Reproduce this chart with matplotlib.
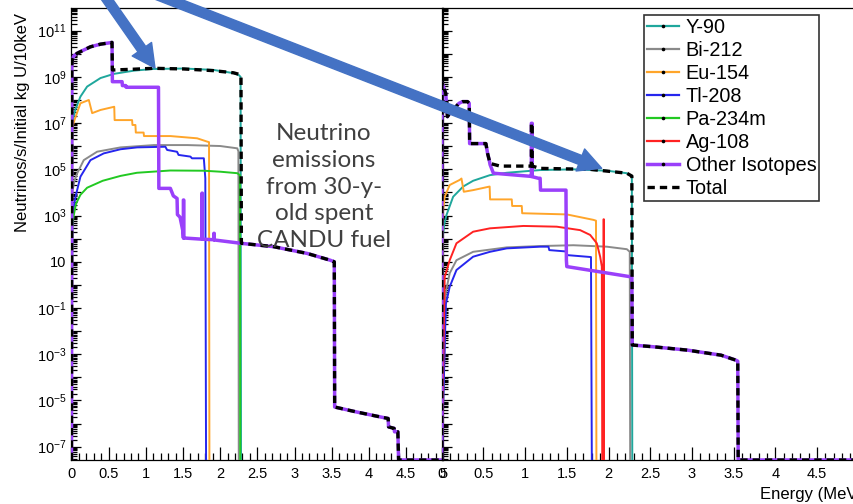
import numpy as np
import matplotlib
matplotlib.use("Agg")
import matplotlib.pyplot as plt
from matplotlib.lines import Line2D
from matplotlib.patches import FancyArrowPatch
from matplotlib.ticker import FixedLocator, MultipleLocator, FuncFormatter

plt.rcParams['font.family'] = ['Liberation Sans', 'DejaVu Sans']

# ---------------- data (energy in MeV, flux in neutrinos/s/kg U/10keV) -------------
series_names = ["Y-90", "Bi-212", "Eu-154", "Tl-208", "Pa-234m", "Ag-108", "Other Isotopes", "Total"]

# left panel
E_L_Y90 = [0.0, 0.01, 0.03, 0.05, 0.12, 0.21, 0.39, 0.57, 0.84, 1.10, 1.51, 1.91, 2.18, 2.25, 2.275, 2.28]
F_L_Y90 = [0, 6.3e6, 2.0e7, 3.7e7, 1.4e8, 3.8e8, 8.9e8, 1.35e9, 1.86e9, 2.2e9, 2.3e9, 2.0e9, 1.45e9, 1.2e9, 1.0e9, 0]

E_L_BI = [0.0, 0.01, 0.04, 0.077, 0.165, 0.345, 0.66, 1.11, 1.56, 2.0, 2.23, 2.245, 2.25]
F_L_BI = [0, 1.0e4, 3.2e4, 6.8e4, 2.5e5, 5.8e5, 8.9e5, 1.12e6, 1.12e6, 1.02e6, 8.1e5, 6.0e5, 0]

E_L_EU = [0.0, 0.01, 0.04, 0.12, 0.233, 0.278, 0.39, 0.575, 0.58, 0.815, 0.82, 0.86, 0.865,
          0.97, 0.975, 1.33, 1.69, 1.82, 1.85, 1.855]
F_L_EU = [0, 6.3e6, 1.35e7, 7.2e7, 1.0e8, 2.7e7, 3.7e7, 5.1e7, 1.35e7, 1.35e7, 8.3e6, 8.3e6, 3.9e6,
          3.9e6, 2.75e6, 2.75e6, 2.2e6, 1.6e6, 1.5e6, 0]

E_L_TL = [0.0, 0.01, 0.054, 0.12, 0.255, 0.434, 0.66, 0.883, 1.263, 1.286, 1.42, 1.44, 1.60, 1.62,
          1.78, 1.80, 1.81]
F_L_TL = [0, 1.0e3, 6.5e3, 4.8e4, 2.5e5, 4.9e5, 7.4e5, 8.9e5, 9.5e5, 6.9e5, 5.75e5, 4.2e5, 3.55e5,
          3.0e5, 3.0e5, 4.1e4, 0]

E_L_PA = [0.0, 0.01, 0.03, 0.06, 0.12, 0.21, 0.42, 0.66, 0.88, 1.33, 1.78, 2.0, 2.23, 2.265, 2.27]
F_L_PA = [0, 3.2e2, 1.0e3, 3.2e3, 7.9e3, 1.6e4, 3.2e4, 5.2e4, 7.1e4, 8.9e4, 8.7e4, 7.9e4, 6.8e4, 5.6e4, 0]

E_L_OTH = [0.0, 0.005, 0.01, 0.03, 0.077, 0.165, 0.255, 0.39, 0.52, 0.545, 0.55, 0.68, 0.685, 0.73,
           0.735, 1.17, 1.175, 1.33, 1.37, 1.42, 1.425, 1.46, 1.50, 1.505, 1.505, 1.51, 1.51, 1.755,
           1.755, 1.76, 1.76, 1.915, 1.915, 1.92, 1.92, 2.28, 2.72, 3.17, 3.48, 3.535, 3.54, 3.83,
           4.15, 4.26, 4.265, 4.34, 4.345, 4.39, 4.40, 5.0]
F_L_OTH = [0, 3.2e9, 5.4e9, 8.0e9, 1.05e10, 1.45e10, 2.0e10, 2.6e10, 3.0e10, 3.1e10, 6.2e8, 6.2e8,
           4.2e8, 4.2e8, 3.55e8, 3.55e8, 1.5e4, 1.5e4, 7.1e3, 5.5e3, 1.1e3, 8.5e2, 2.0e2, 1.07e2,
           4.7e3, 4.7e3, 1.07e2, 95, 9.3e3, 9.3e3, 95, 90, 1.7e2, 1.7e2, 88, 63, 45, 23, 11.7, 10,
           5.2e-6, 3.2e-6, 1.95e-6, 1.66e-6, 7.2e-7, 6.2e-7, 4.4e-7, 4.4e-7, 0, 0]

E_L_TOT = [0.0, 0.005, 0.01, 0.03, 0.077, 0.165, 0.255, 0.39, 0.52, 0.545, 0.55, 0.59, 0.84, 1.10,
           1.51, 1.91, 2.18, 2.25, 2.28, 2.285, 2.72, 3.17, 3.48, 3.535, 3.54, 3.83, 4.15, 4.26,
           4.265, 4.34, 4.345, 4.39, 4.40, 5.0]
F_L_TOT = [0, 3.2e9, 5.4e9, 8.0e9, 1.05e10, 1.45e10, 2.0e10, 2.6e10, 3.0e10, 3.1e10, 2.0e9, 2.0e9,
           2.15e9, 2.35e9, 2.2e9, 1.86e9, 1.5e9, 1.3e9, 1.12e9, 63, 45, 23, 11.7, 10, 5.2e-6,
           3.2e-6, 1.95e-6, 1.66e-6, 7.2e-7, 6.2e-7, 4.4e-7, 4.4e-7, 0, 0]

# right panel
E_R_Y90 = [0.0, 0.01, 0.03, 0.057, 0.137, 0.257, 0.377, 0.578, 0.779, 1.18, 1.58, 1.98, 2.22, 2.28, 2.285]
F_R_Y90 = [0, 1.0e2, 4.0e2, 1.05e3, 6.5e3, 1.8e4, 3.2e4, 5.6e4, 7.1e4, 9.3e4, 1.0e5, 8.7e4, 6.8e4, 4.8e4, 0]

E_R_BI = [0.0, 0.05, 0.096, 0.177, 0.377, 0.78, 1.18, 1.58, 1.98, 2.22, 2.255, 2.26]
F_R_BI = [0, 0.5, 3.2, 11.7, 27, 42, 48, 52, 45, 35, 27, 0]

E_R_EU = [0.0, 0.01, 0.036, 0.096, 0.217, 0.237, 0.265, 0.377, 0.575, 0.58, 0.84, 0.845, 0.96,
          0.965, 1.5, 1.82, 1.85, 1.855]
F_R_EU = [0, 1.0e3, 6.5e3, 2.1e4, 3.5e4, 4.0e4, 1.07e4, 1.26e4, 1.8e4, 5.0e3, 5.0e3, 2.6e3, 2.6e3,
          1.26e3, 1.12e3, 6.5e2, 6.0e2, 0]

E_R_TL = [0.0, 0.05, 0.096, 0.177, 0.377, 0.578, 0.78, 1.18, 1.28, 1.29, 1.49, 1.50, 1.79, 1.80]
F_R_TL = [0, 0.15, 0.83, 4.4, 16.6, 27, 38, 45, 45, 32, 28, 19.5, 16, 0]

E_R_AG = [0.0, 0.036, 0.096, 0.177, 0.377, 0.578, 0.98, 1.38, 1.66, 1.78, 1.86, 1.90, 1.92, 1.925,
          1.94, 1.94, 1.945, 1.945]
F_R_AG = [0, 2.2, 11.7, 63, 200, 280, 355, 330, 234, 145, 63, 16.6, 6.2, 0, 0, 690, 690, 0]

E_R_OTH = [0.0, 0.003, 0.008, 0.028, 0.048, 0.069, 0.09, 0.208, 0.25, 0.31, 0.33, 0.335, 0.53, 0.55,
           0.57, 0.58, 0.62, 1.06, 1.075, 1.075, 1.085, 1.085, 1.16, 1.18, 1.185, 1.49, 1.495, 1.50,
           2.28, 2.285, 2.54, 2.95, 3.35, 3.53, 3.55, 3.555, 5.0]
F_R_OTH = [0, 4.0e8, 5.2e8, 3.2e8, 1.95e8, 1.9e7, 2.5e7, 7.2e7, 8.5e7, 8.5e7, 7.2e7, 1.3e6, 1.3e6,
           4.9e5, 2.5e5, 1.6e5, 6.8e4, 5.0e4, 4.9e4, 9.8e6, 9.8e6, 4.8e4, 4.1e4, 4.1e4, 1.26e4,
           1.26e4, 11.7, 6.2, 2.2, 2.5e-3, 2.1e-3, 1.5e-3, 9.1e-4, 5.5e-4, 5.0e-4, 0, 0]

E_R_TOT = [0.0, 0.003, 0.008, 0.028, 0.048, 0.069, 0.09, 0.208, 0.25, 0.31, 0.33, 0.335, 0.53, 0.55,
           0.57, 0.58, 0.70, 1.075, 1.075, 1.085, 1.085, 1.18, 1.78, 2.22, 2.28, 2.285, 2.54, 2.95,
           3.35, 3.53, 3.55, 3.555, 5.0]
F_R_TOT = [0, 4.0e8, 5.2e8, 3.2e8, 1.95e8, 1.9e7, 2.5e7, 7.2e7, 8.5e7, 8.5e7, 7.2e7, 1.3e6, 1.3e6,
           4.9e5, 2.5e5, 1.8e5, 1.38e5, 1.38e5, 9.8e6, 9.8e6, 1.38e5, 1.1e5, 1.0e5, 6.8e4, 5.1e4,
           2.5e-3, 2.1e-3, 1.5e-3, 9.1e-4, 5.5e-4, 5.0e-4, 0, 0]

x_ticks_left = [0, 0.5, 1, 1.5, 2, 2.5, 3, 3.5, 4, 4.5, 5]
x_ticks_right = [0, 0.5, 1, 1.5, 2, 2.5, 3, 3.5, 4, 4.5]

# ---------------- styles -------------
colors = {"Y-90": "#1FA79C", "Bi-212": "#8A8A8A", "Eu-154": "#FFA52A", "Tl-208": "#2626EE",
          "Pa-234m": "#22C922", "Ag-108": "#FF2222", "Other Isotopes": "#9A40FA", "Total": "black"}

W, H = 854, 504
fig = plt.figure(figsize=(W / 100, H / 100), dpi=100)

def px_axes(x0, y0, x1, y1):
    return fig.add_axes([x0 / W, 1 - y1 / H, (x1 - x0) / W, (y1 - y0) / H])

YMIN, YMAX = 10 ** -7.576, 10 ** 11.98
axL = px_axes(71.5, 8, 443.2, 460)
axR = px_axes(441.7, 8, 858.7, 460)
axR.patch.set_alpha(0)

def draw(ax, name, E, F):
    F = np.array(F, dtype=float)
    F[F <= 0] = YMIN  # empty bins drawn on the frame bottom (ROOT style)
    c = colors[name]
    if name == "Total":
        ax.plot(E, F, color=c, lw=2.4, ls=(0, (2.2, 1.5)), zorder=6)
    elif name == "Other Isotopes":
        ax.plot(E, F, color=c, lw=2.5, zorder=5)
    else:
        ax.plot(E, F, color=c, lw=1.4, zorder=3)

left_series = [("Y-90", E_L_Y90, F_L_Y90), ("Bi-212", E_L_BI, F_L_BI), ("Eu-154", E_L_EU, F_L_EU),
               ("Tl-208", E_L_TL, F_L_TL), ("Pa-234m", E_L_PA, F_L_PA),
               ("Other Isotopes", E_L_OTH, F_L_OTH), ("Total", E_L_TOT, F_L_TOT)]
right_series = [("Y-90", E_R_Y90, F_R_Y90), ("Bi-212", E_R_BI, F_R_BI), ("Eu-154", E_R_EU, F_R_EU),
                ("Tl-208", E_R_TL, F_R_TL), ("Ag-108", E_R_AG, F_R_AG),
                ("Other Isotopes", E_R_OTH, F_R_OTH), ("Total", E_R_TOT, F_R_TOT)]

for ax, ser in ((axL, left_series), (axR, right_series)):
    for name, E, F in ser:
        draw(ax, name, E, F)

def ylab(v, pos):
    k = int(round(np.log10(v)))
    if k % 2 == 0:
        return ''
    if k == 1:
        return '10'
    return r'$\mathregular{10^{%d}}$' % k

for ax, xt in ((axL, x_ticks_left), (axR, x_ticks_right)):
    ax.set_yscale('log')
    ax.set_ylim(YMIN, YMAX)
    ax.set_xlim(0, 5)
    ax.yaxis.set_major_locator(FixedLocator([10.0 ** k for k in range(-7, 12)]))
    ax.yaxis.set_minor_locator(FixedLocator([m * 10.0 ** k for k in range(-8, 12) for m in range(2, 10)]))
    ax.xaxis.set_major_locator(FixedLocator(xt))
    ax.xaxis.set_minor_locator(MultipleLocator(0.1))
    ax.xaxis.set_major_formatter(FuncFormatter(lambda v, p: '%g' % v))
    ax.yaxis.set_major_formatter(FuncFormatter(ylab))
    ax.tick_params(which='both', direction='in', top=False, right=False, labelsize=10.5, width=0.9)
    ax.tick_params(axis='x', which='major', length=9.5, pad=5)
    ax.tick_params(axis='x', which='minor', length=5)
    ax.tick_params(axis='y', which='major', length=7.5)
    ax.tick_params(axis='y', which='minor', length=4)
    for s in ax.spines.values():
        s.set_linewidth(0.9)
axR.tick_params(labelleft=False)

fig.text(23 / W, 1 - 122 / H, 'Neutrinos/s/Initial kg U/10keV', rotation=90,
         ha='center', va='center', fontsize=12)
fig.text(863 / W, 1 - 495 / H, 'Energy (MeV)', ha='right', va='center', fontsize=12)

fig.text(324 / W, 1 - 187 / H, 'Neutrino\nemissions\nfrom 30-y-\nold spent\nCANDU fuel',
         ha='center', va='center', fontsize=17.5, color='#404040', family='Lato',
         linespacing=1.33, zorder=8)

# legend
handles = []
for name in series_names:
    if name == "Total":
        handles.append(Line2D([], [], color='black', lw=2.4, ls=(0, (2.2, 1.5))))
    else:
        handles.append(Line2D([], [], color=colors[name], lw=2.5 if name == "Other Isotopes" else 1.6,
                              marker='o', ms=1.6, mfc='black', mec='black'))
leg = fig.legend(handles, series_names, loc='upper left', bbox_to_anchor=(644 / W, 1 - 15 / H),
                 fontsize=14.3, frameon=True, fancybox=False, edgecolor='black', borderpad=0.15,
                 labelspacing=0.2, handlelength=1.6, handletextpad=0.35, borderaxespad=0)
leg.get_frame().set_linewidth(1.2)
leg.set_zorder(9)

# overlay arrows
def arrow(p0, p1):
    a = FancyArrowPatch((p0[0] / W, 1 - p0[1] / H), (p1[0] / W, 1 - p1[1] / H),
                        transform=fig.transFigure,
                        arrowstyle='simple,head_length=16.5,head_width=17,tail_width=6.8',
                        mutation_scale=1, color='#4472C4', shrinkA=0, shrinkB=0, zorder=10)
    fig.add_artist(a)

arrow((100.5, -10), (155, 68))
arrow((144.3, -10), (601.7, 168.3))

fig.savefig('out.png', dpi=100)
